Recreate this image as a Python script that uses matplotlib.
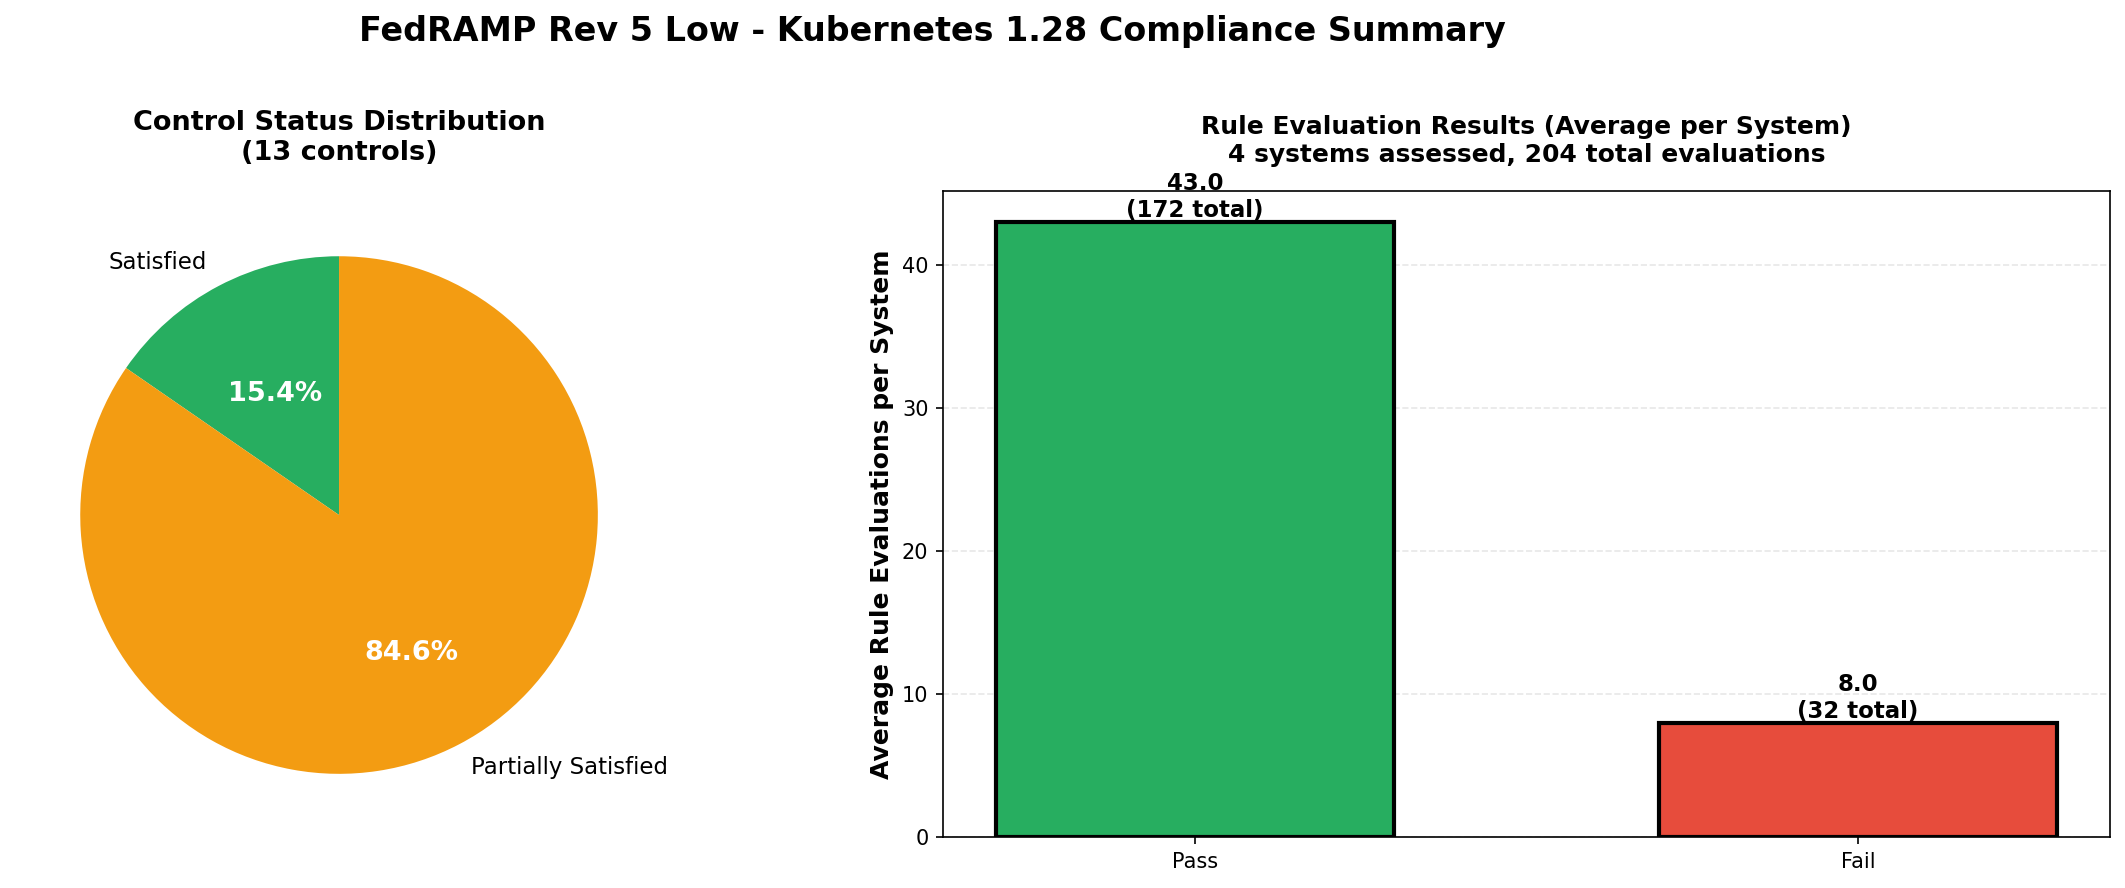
import numpy as np
import matplotlib
matplotlib.use("Agg")
import matplotlib.pyplot as plt

# control status data
status_labels = ["Satisfied", "Partially Satisfied"]
status_counts = [2, 11]
status_colors = ["#27ae60", "#f39c12"]

# rule evaluation data
result_labels = ["Pass", "Fail"]
result_avg = [43.0, 8.0]
result_totals = [172, 32]
result_colors = ["#27ae60", "#e74c3c"]
n_systems = 4

fig = plt.figure(figsize=(2125 / 150, 888 / 150), dpi=150)
fig.suptitle("FedRAMP Rev 5 Low - Kubernetes 1.28 Compliance Summary",
             fontsize=16, fontweight="bold", x=0.4386, y=0.983)

# pie chart
ax1 = fig.add_axes([0.0073, 0.0557, 0.3045, 0.7286])
wedges, texts, autotexts = ax1.pie(status_counts, labels=status_labels, colors=status_colors,
                                   autopct="%1.1f%%", startangle=90,
                                   textprops={"fontsize": 11})
for t in autotexts:
    t.set_color("white")
    t.set_fontweight("bold")
    t.set_fontsize(13)
# small slice label sits a bit closer to the centre
px, py = autotexts[0].get_position()
autotexts[0].set_position((px * 0.88, py * 0.88))
ax1.set_title(f"Control Status Distribution\n({sum(status_counts)} controls)",
              fontsize=13, fontweight="bold", pad=15)

# bar chart
ax2 = fig.add_axes([0.4438, 0.0574, 0.5491, 0.7275])
x = np.arange(len(result_labels))
bars = ax2.bar(x, result_avg, width=0.6, color=result_colors, edgecolor="black", linewidth=2)
for b, avg, tot in zip(bars, result_avg, result_totals):
    ax2.text(b.get_x() + b.get_width() / 2, b.get_height(), f"{avg:.1f}\n({tot} total)",
             ha="center", va="bottom", fontsize=11, fontweight="bold")
ax2.set_xticks(x)
ax2.set_xticklabels(result_labels, fontsize=10)
ax2.tick_params(axis="y", labelsize=10)
ax2.set_ylabel("Average Rule Evaluations per System", fontsize=12, fontweight="bold")
ax2.set_title(f"Rule Evaluation Results (Average per System)\n"
              f"{n_systems} systems assessed, {sum(result_totals)} total evaluations",
              fontsize=12, fontweight="bold", pad=14)
ax2.grid(axis="y", alpha=0.3, linestyle="--")
ax2.set_axisbelow(True)

fig.savefig("out.png", dpi=150)
